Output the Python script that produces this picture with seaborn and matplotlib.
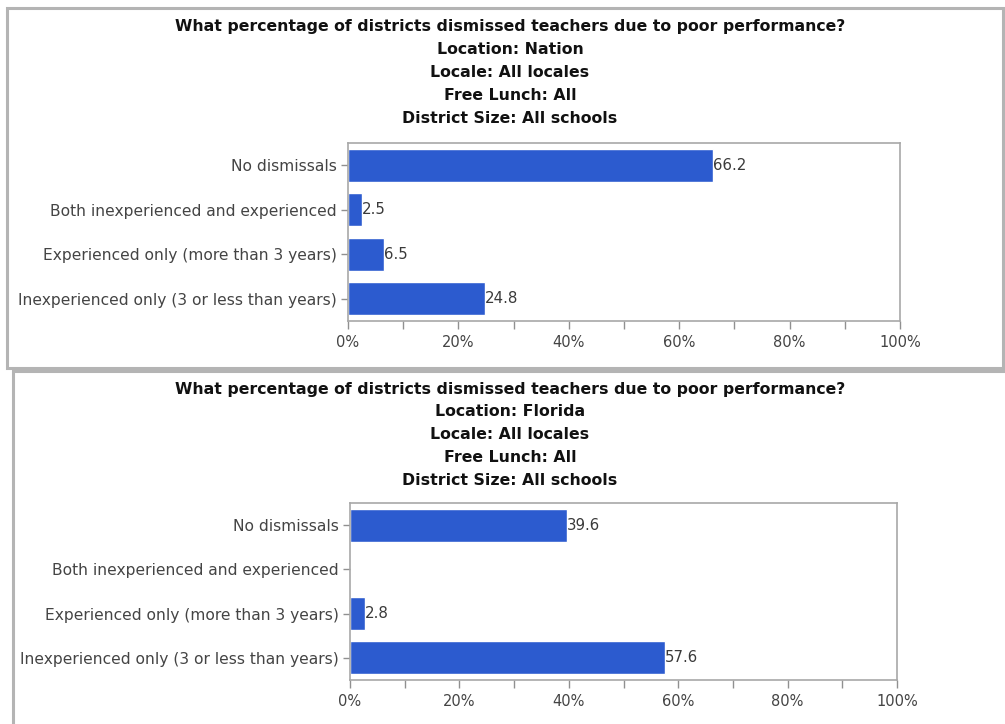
import numpy as np
import pandas as pd
import matplotlib
matplotlib.use("Agg")
import matplotlib.pyplot as plt
from matplotlib.patches import Rectangle
from matplotlib.ticker import MultipleLocator, FuncFormatter
import seaborn as sns

categories = [
    "No dismissals",
    "Both inexperienced and experienced",
    "Experienced only (more than 3 years)",
    "Inexperienced only (3 or less than years)",
]
nation_values = [66.2, 2.5, 6.5, 24.8]
florida_values = [39.6, np.nan, 2.8, 57.6]
title_question = "What percentage of districts dismissed teachers due to poor performance?"
locations = ["Nation", "Florida"]
locale = "All locales"
free_lunch = "All"
district_size = "All schools"

sns.set_theme(style="white")
plt.rcParams['font.family'] = ['DejaVu Sans']

W, H = 1005, 724
fig = plt.figure(figsize=(W / 100, H / 100), dpi=100)
fig.patch.set_facecolor("white")

def px_axes(left, top, right, bottom):
    return fig.add_axes([left / W, 1 - bottom / H, (right - left) / W, (bottom - top) / H])

BAR_COLOR = "#2C5BCF"
EDGE = "#a8a8a8"

def panel(ax, values, location, title_top, frame):
    fx0, fy0, fx1, fy1 = frame
    fig.patches.append(Rectangle((fx0 / W, 1 - fy1 / H), (fx1 - fx0) / W, (fy1 - fy0) / H,
                                 transform=fig.transFigure, fill=False,
                                 edgecolor="#b4b4b4", linewidth=2.2, zorder=0))
    df = pd.DataFrame({"category": categories, "value": values})
    sns.barplot(data=df, y="category", x="value", order=categories, orient="h",
                color=BAR_COLOR, saturation=1, width=0.75, ax=ax)
    ax.set_xlim(0, 100)
    ax.set_ylim(3.5, -0.5)
    ax.set_xlabel("")
    ax.set_ylabel("")
    ax.xaxis.set_major_locator(MultipleLocator(20))
    ax.xaxis.set_minor_locator(MultipleLocator(10))
    ax.xaxis.set_major_formatter(FuncFormatter(lambda v, p: f"{int(v)}%"))
    ax.tick_params(axis="x", which="both", bottom=True, length=6, width=1,
                   color="#909090", direction="out", pad=4, labelsize=10.5,
                   labelcolor="#444444")
    ax.tick_params(axis="y", left=True, length=5, width=1, color="#909090",
                   direction="out", pad=3, labelsize=11.2, labelcolor="#444444")
    for s in ax.spines.values():
        s.set_color(EDGE)
        s.set_linewidth(1.2)
    for i, v in enumerate(values):
        if not np.isnan(v):
            ax.text(v, i, f"{v:.1f}", va="center", ha="left", fontsize=10.8,
                    color="#3a3a3a")
    lines = [title_question, f"Location: {location}", f"Locale: {locale}",
             f"Free Lunch: {free_lunch}", f"District Size: {district_size}"]
    for k, line in enumerate(lines):
        fig.text(510 / W, 1 - (title_top + k * 22.8) / H, line, ha="center", va="center",
                 fontsize=11.3, fontweight="bold", color="#111111")

ax1 = px_axes(348, 143, 900, 321)
panel(ax1, nation_values, locations[0], 27, (7, 8, 1003, 368))
ax2 = px_axes(350, 503, 897, 680)
panel(ax2, florida_values, locations[1], 389, (13, 371, 1010, 730))

fig.savefig("out.png", dpi=100, facecolor="white")
